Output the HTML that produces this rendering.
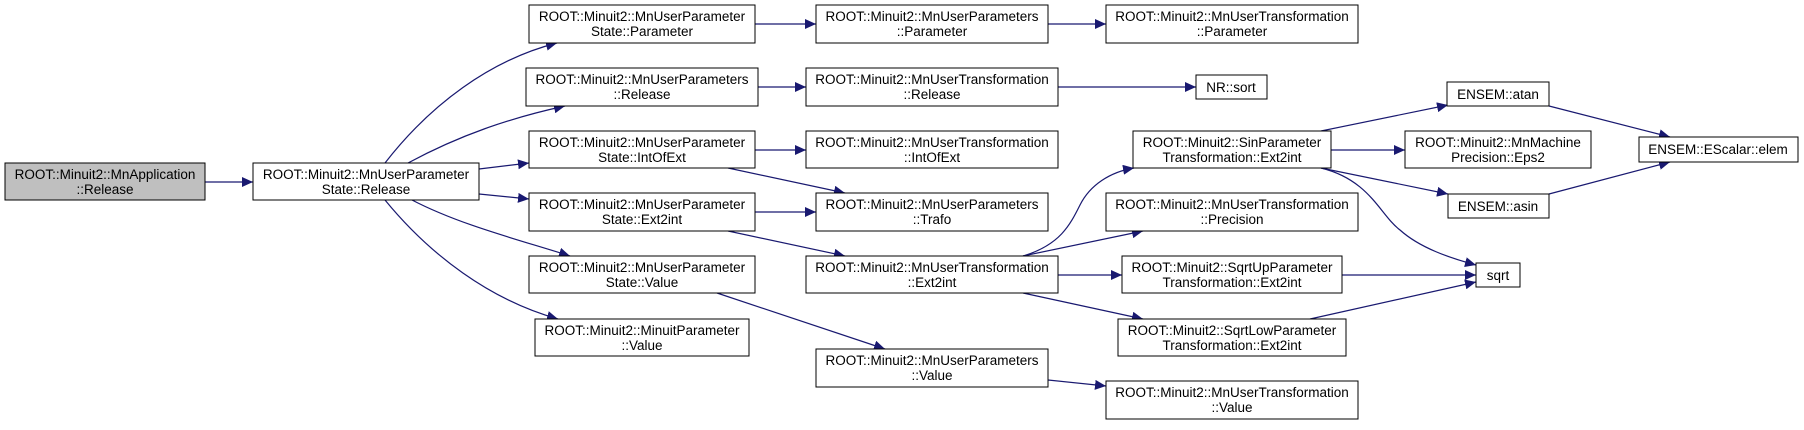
<!DOCTYPE html>
<html><head><meta charset="utf-8"><style>
body{margin:0;background:#fff}
svg text{font-family:"Liberation Sans",Arial,sans-serif;font-size:13.5px;fill:#000}
</style></head><body>
<svg width="1804" height="425" viewBox="0 0 1804 425" xmlns="http://www.w3.org/2000/svg">
<defs><marker id="a" markerUnits="userSpaceOnUse" markerWidth="12" markerHeight="10" refX="11" refY="5" orient="auto"><path d="M0,0L11,5L0,10z" fill="#191970"/></marker></defs>
<g fill="none" stroke="#191970" stroke-width="1.2" marker-end="url(#a)">
<path d="M205,182L253,182"/>
<path d="M385,163C430,105 490,60 557,43"/>
<path d="M408,163C460,135 510,118 565,106"/>
<path d="M479,169L529,163"/>
<path d="M479,194L529,199"/>
<path d="M412,200C460,225 520,240 570,256"/>
<path d="M385,200C430,255 490,300 558,319"/>
<path d="M755,24L816,24"/>
<path d="M758,87L806,87"/>
<path d="M755,150L806,150"/>
<path d="M728,168L845,193"/>
<path d="M755,212L816,212"/>
<path d="M728,231L845,256"/>
<path d="M717,293L885,349"/>
<path d="M1048,380L1106,386"/>
<path d="M1048,24L1106,24"/>
<path d="M1058,87L1196,87"/>
<path d="M1023,256C1060,245 1070,225 1080,205C1090,185 1110,172 1134,168"/>
<path d="M1023,256L1143,231"/>
<path d="M1058,275L1122,275"/>
<path d="M1023,293L1143,319"/>
<path d="M1321,131L1448,105"/>
<path d="M1331,150L1405,150"/>
<path d="M1321,168L1448,194"/>
<path d="M1321,168C1370,180 1380,215 1400,230C1420,248 1450,258 1476,265"/>
<path d="M1342,275L1476,275"/>
<path d="M1310,319L1476,282"/>
<path d="M1549,106L1670,137"/>
<path d="M1549,194L1670,162"/>
</g>
<g stroke="#000" stroke-width="1" fill="#fff">
<rect x="5" y="163" width="200" height="37" fill="#bfbfbf"/>
<rect x="253" y="163" width="226" height="37"/>
<rect x="529" y="5" width="226" height="38"/>
<rect x="526" y="68" width="232" height="38"/>
<rect x="529" y="131" width="226" height="37"/>
<rect x="529" y="193" width="226" height="38"/>
<rect x="529" y="256" width="226" height="37"/>
<rect x="535" y="319" width="214" height="37"/>
<rect x="816" y="5" width="232" height="38"/>
<rect x="806" y="68" width="252" height="38"/>
<rect x="806" y="131" width="252" height="37"/>
<rect x="816" y="193" width="232" height="38"/>
<rect x="806" y="256" width="252" height="37"/>
<rect x="816" y="349" width="232" height="38"/>
<rect x="1106" y="5" width="252" height="38"/>
<rect x="1196" y="75" width="71" height="24"/>
<rect x="1133" y="131" width="198" height="37"/>
<rect x="1106" y="193" width="252" height="38"/>
<rect x="1122" y="256" width="220" height="37"/>
<rect x="1118" y="319" width="228" height="37"/>
<rect x="1106" y="381" width="252" height="38"/>
<rect x="1447" y="82" width="102" height="24"/>
<rect x="1405" y="131" width="186" height="37"/>
<rect x="1448" y="194" width="101" height="24"/>
<rect x="1476" y="263" width="44" height="24"/>
<rect x="1639" y="137" width="159" height="25"/>
</g>
<g text-anchor="middle">
<text x="105" y="179">ROOT::Minuit2::MnApplication</text><text x="105" y="194">::Release</text>
<text x="366" y="179">ROOT::Minuit2::MnUserParameter</text><text x="366" y="194">State::Release</text>
<text x="642" y="21">ROOT::Minuit2::MnUserParameter</text><text x="642" y="36">State::Parameter</text>
<text x="642" y="84">ROOT::Minuit2::MnUserParameters</text><text x="642" y="99">::Release</text>
<text x="642" y="147">ROOT::Minuit2::MnUserParameter</text><text x="642" y="162">State::IntOfExt</text>
<text x="642" y="209">ROOT::Minuit2::MnUserParameter</text><text x="642" y="224">State::Ext2int</text>
<text x="642" y="272">ROOT::Minuit2::MnUserParameter</text><text x="642" y="287">State::Value</text>
<text x="642" y="335">ROOT::Minuit2::MinuitParameter</text><text x="642" y="350">::Value</text>
<text x="932" y="21">ROOT::Minuit2::MnUserParameters</text><text x="932" y="36">::Parameter</text>
<text x="932" y="84">ROOT::Minuit2::MnUserTransformation</text><text x="932" y="99">::Release</text>
<text x="932" y="147">ROOT::Minuit2::MnUserTransformation</text><text x="932" y="162">::IntOfExt</text>
<text x="932" y="209">ROOT::Minuit2::MnUserParameters</text><text x="932" y="224">::Trafo</text>
<text x="932" y="272">ROOT::Minuit2::MnUserTransformation</text><text x="932" y="287">::Ext2int</text>
<text x="932" y="365">ROOT::Minuit2::MnUserParameters</text><text x="932" y="380">::Value</text>
<text x="1232" y="21">ROOT::Minuit2::MnUserTransformation</text><text x="1232" y="36">::Parameter</text>
<text x="1231" y="92">NR::sort</text>
<text x="1232" y="147">ROOT::Minuit2::SinParameter</text><text x="1232" y="162">Transformation::Ext2int</text>
<text x="1232" y="209">ROOT::Minuit2::MnUserTransformation</text><text x="1232" y="224">::Precision</text>
<text x="1232" y="272">ROOT::Minuit2::SqrtUpParameter</text><text x="1232" y="287">Transformation::Ext2int</text>
<text x="1232" y="335">ROOT::Minuit2::SqrtLowParameter</text><text x="1232" y="350">Transformation::Ext2int</text>
<text x="1232" y="397">ROOT::Minuit2::MnUserTransformation</text><text x="1232" y="412">::Value</text>
<text x="1498" y="99">ENSEM::atan</text>
<text x="1498" y="147">ROOT::Minuit2::MnMachine</text><text x="1498" y="162">Precision::Eps2</text>
<text x="1498" y="211">ENSEM::asin</text>
<text x="1498" y="280">sqrt</text>
<text x="1718" y="154">ENSEM::EScalar::elem</text>
</g>
</svg>
</body></html>
